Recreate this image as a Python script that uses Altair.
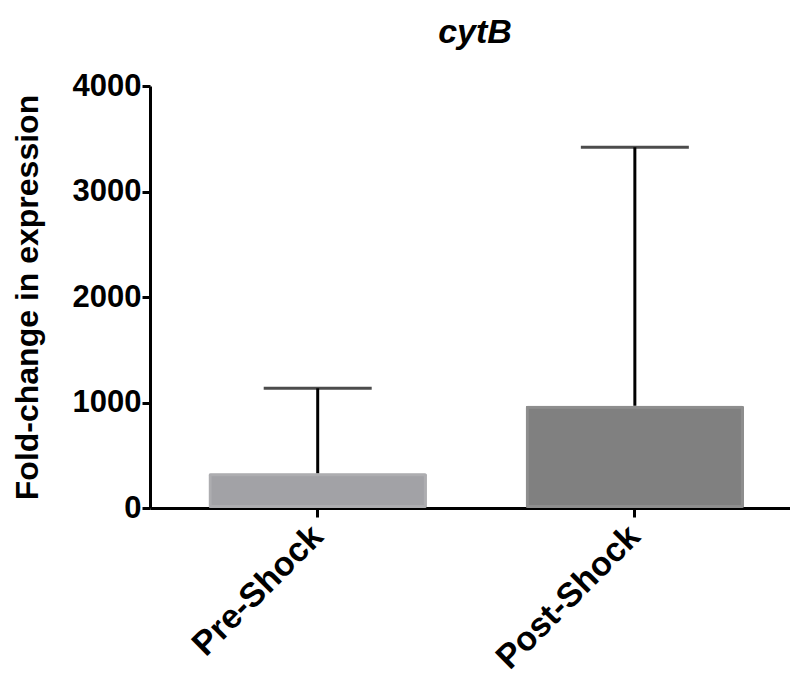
import altair as alt
import pandas as pd

groups = ["Pre-Shock", "Post-Shock"]
means = [330, 970]
uppers = [1135, 3420]
fills = ["#a2a2a6", "#808080"]
strokes = ["#adadb0", "#8e8e8e"]

df = pd.DataFrame({"group": groups, "mean": means, "upper": uppers,
                   "fill": fills, "stroke": strokes})

FONT = "Liberation Sans"

x = alt.X("group:N", sort=groups,
          scale=alt.Scale(paddingInner=0.312, paddingOuter=0.165, align=0.56),
          axis=alt.Axis(title=None, labelAngle=-45, labelFontSize=34, labelFont=FONT,
                        labelFontWeight="bold", labelColor="black", domainColor="black",
                        domainWidth=3, tickColor="black", tickWidth=3, tickSize=9,
                        labelPadding=14, labelAlign="right", labelBaseline="middle",
                        labelLimit=0))

y = alt.Y("mean:Q",
          scale=alt.Scale(domain=[0, 4000], nice=False),
          axis=alt.Axis(title="Fold-change in expression", values=[0, 1000, 2000, 3000, 4000],
                        format="d", labelFontSize=31, labelFont=FONT, labelFontWeight="bold",
                        labelColor="black", titleFontSize=32, titleFont=FONT,
                        titleFontWeight="bold", titleColor="black", titlePadding=28,
                        domainColor="black", domainWidth=3, tickColor="black",
                        tickWidth=3, tickSize=8, grid=False, labelPadding=1))

bars = alt.Chart(df).mark_bar(strokeWidth=6, cornerRadius=2).encode(
    x=x, y=y,
    color=alt.Color("fill:N", scale=None),
    stroke=alt.Stroke("stroke:N", scale=None),
)

err = alt.Chart(df).mark_rule(color="black", strokeWidth=3).encode(
    x=alt.X("group:N", sort=groups),
    y=alt.Y("mean:Q"),
    y2=alt.Y2("upper:Q"),
)

cap = alt.Chart(df).mark_tick(color="black", thickness=3, size=108, orient="horizontal").encode(
    x=alt.X("group:N", sort=groups),
    y=alt.Y("upper:Q"),
)

chart = alt.layer(bars, err, cap).properties(
    width=640, height=422,
    background="white",
    title=alt.TitleParams("cytB", font=FONT, fontSize=34, fontStyle="italic",
                          fontWeight="bold", color="black", anchor="middle", offset=20,
                          dx=5),
    autosize=alt.AutoSizeParams(type="none"),
    padding={"left": 142, "top": 78, "right": 0, "bottom": 170},
).configure_view(stroke="transparent", strokeWidth=0)

chart.save("out.html", embed_options={"renderer": "svg", "actions": False})
